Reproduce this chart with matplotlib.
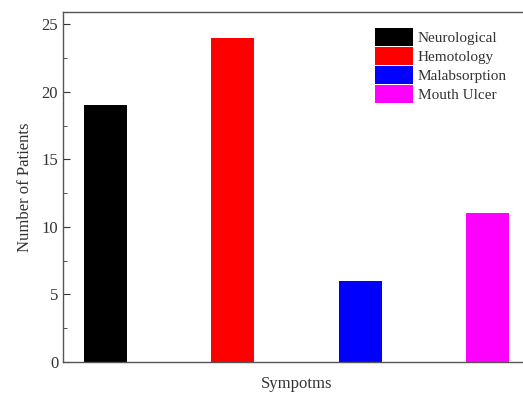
import matplotlib
matplotlib.use("Agg")
from matplotlib import pyplot as plt
from matplotlib.patches import Patch
from matplotlib.ticker import MultipleLocator

categories = ["Neurological", "Hemotology", "Malabsorption", "Mouth Ulcer"]
patients = [19, 24, 6, 11]
colors = ["#000000", "#ff0000", "#0000ff", "#ff00ff"]

plt.rcParams['font.family'] = ['Liberation Serif', 'DejaVu Serif']

fig = plt.figure(figsize=(5.23, 3.94), dpi=100)
# axes extend past the right edge of the figure, as in the original crop
ax = fig.add_axes([63 / 523, 32 / 394, 467 / 523, 350 / 394])

xs = range(1, len(categories) + 1)
ax.bar(xs, patients, width=0.34, color=colors)

ax.set_xlim(0.666, 4.334)
ax.set_ylim(0, 25.9)
ax.set_xticks([])
ax.yaxis.set_major_locator(MultipleLocator(5))
ax.yaxis.set_minor_locator(MultipleLocator(2.5))
ax.tick_params(axis='y', which='major', direction='in', length=5, labelsize=12, colors='#333333')
ax.tick_params(axis='y', which='minor', direction='in', length=3, colors='#333333')
for s in ax.spines.values():
    s.set_color('#555555')
    s.set_linewidth(1.0)
ax.spines['right'].set_visible(False)

ax.set_ylabel("Number of Patients", fontsize=12, color='#333333', labelpad=6)
ax.set_xlabel("Sympotms", fontsize=12, color='#333333', labelpad=10)

handles = [Patch(facecolor=c, edgecolor='none') for c in colors]
ax.legend(handles, categories, loc='upper left', bbox_to_anchor=(0.655, 0.972),
          frameon=False, fontsize=11, handlelength=2.5, handleheight=1.4,
          labelspacing=0.1, handletextpad=0.3, borderaxespad=0, labelcolor='#333333')

fig.savefig("out.png", dpi=100)
